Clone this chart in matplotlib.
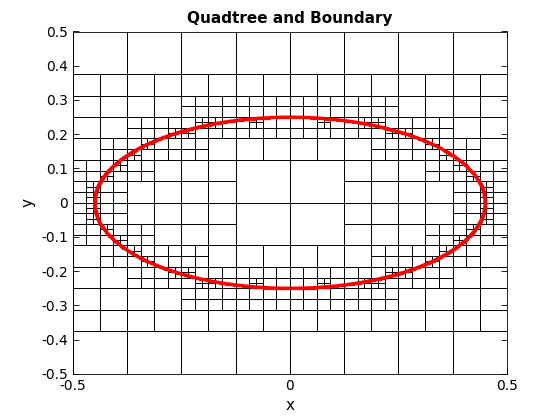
import numpy as np
import matplotlib
matplotlib.use("Agg")
import matplotlib.pyplot as plt
from matplotlib.collections import LineCollection

# ---- data / parameters ----
semi_axes = [0.45, 0.25]          # ellipse semi-axes (x, y)
n_points = 558                    # boundary samples (equally spaced in angle)
capacity = 6                      # max points per quadtree cell
max_depth = 8
domain = [-0.5, 0.5]
xticks = [-0.5, 0, 0.5]
xticklabels = ["-0.5", "0", "0.5"]
yticks = [-0.5, -0.4, -0.3, -0.2, -0.1, 0, 0.1, 0.2, 0.3, 0.4, 0.5]
yticklabels = ["-0.5", "-0.4", "-0.3", "-0.2", "-0.1", "0", "0.1", "0.2", "0.3", "0.4", "0.5"]

t = np.linspace(0, 2 * np.pi, n_points, endpoint=False)
px = semi_axes[0] * np.cos(t)
py = semi_axes[1] * np.sin(t)

# ---- build quadtree (unit coords) ----
u = px - domain[0]
v = py - domain[0]
leaves = set()

def build(level, i, j, idx):
    s = 1.0 / 2 ** level
    if len(idx) > capacity and level < max_depth:
        for di in (0, 1):
            for dj in (0, 1):
                x0 = (2 * i + di) * s / 2
                y0 = (2 * j + dj) * s / 2
                m = (u[idx] >= x0) & (u[idx] < x0 + s / 2) & (v[idx] >= y0) & (v[idx] < y0 + s / 2)
                build(level + 1, 2 * i + di, 2 * j + dj, idx[m])
    else:
        leaves.add((level, i, j))

build(0, 0, 0, np.arange(n_points))

def find_level(x, y):
    if x < 0 or y < 0 or x >= 1 or y >= 1:
        return None
    for L in range(max_depth + 1):
        k = 2 ** L
        if (L, int(x * k), int(y * k)) in leaves:
            return L
    return None

# 2:1 balance (edge and corner neighbours)
changed = True
eps = 1e-9
fine = 2 ** max_depth
while changed:
    changed = False
    for (L, i, j) in list(leaves):
        if (L, i, j) not in leaves:
            continue
        s = 1.0 / 2 ** L
        x0, y0 = i * s, j * s
        nsteps = max(1, int(s * fine))
        queries = [(x0 - eps, y0 - eps), (x0 + s + eps, y0 - eps),
                   (x0 - eps, y0 + s + eps), (x0 + s + eps, y0 + s + eps)]
        for k in range(nsteps):
            c = (k + 0.5) / fine
            queries += [(x0 - eps, y0 + c), (x0 + s + eps, y0 + c),
                        (x0 + c, y0 - eps), (x0 + c, y0 + s + eps)]
        need = False
        for (qx, qy) in queries:
            lv = find_level(qx, qy)
            if lv is not None and lv > L + 1:
                need = True
                break
        if need:
            leaves.discard((L, i, j))
            for di in (0, 1):
                for dj in (0, 1):
                    leaves.add((L + 1, 2 * i + di, 2 * j + dj))
            changed = True

segs = []
for (L, i, j) in leaves:
    s = 1.0 / 2 ** L
    x0 = i * s + domain[0]
    y0 = j * s + domain[0]
    segs.append([(x0, y0), (x0 + s, y0), (x0 + s, y0 + s), (x0, y0 + s), (x0, y0)])

# ---- plot ----
fig = plt.figure(figsize=(5.6, 4.2), dpi=100)
ax = fig.add_axes([0.13, 0.11, 0.775, 0.815])
ax.add_collection(LineCollection(segs, colors="black", linewidths=0.6))
ax.plot(np.append(px, px[0]), np.append(py, py[0]), color="red", lw=2.2,
        marker=".", markersize=3)
ax.set_xlim(domain)
ax.set_ylim(domain)
ax.set_xticks(xticks)
ax.set_xticklabels(xticklabels)
ax.set_yticks(yticks)
ax.set_yticklabels(yticklabels)
ax.tick_params(direction="in", length=4, top=True, right=True, labelsize=10, width=0.6)
for sp in ax.spines.values():
    sp.set_linewidth(0.6)
ax.set_xlabel("x", fontsize=11)
ax.set_ylabel("y", fontsize=11)
ax.set_title("Quadtree and Boundary", fontsize=11, fontweight="bold")
fig.savefig("out.png", dpi=100)
